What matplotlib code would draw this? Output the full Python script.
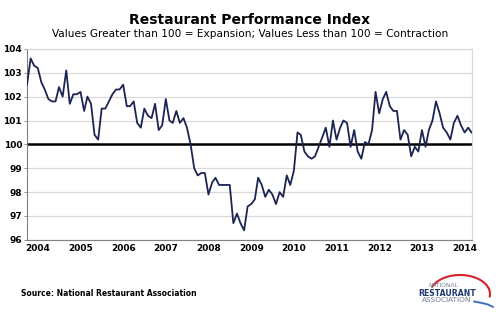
import numpy as np
import pandas as pd
import matplotlib
matplotlib.use("Agg")
import matplotlib.pyplot as plt

# monthly index values, Oct 2003 - Mar 2014
rpi = [102.5, 103.6, 103.3, 103.2, 102.6, 102.3, 101.9, 101.8, 101.8, 102.4,
       102.0, 103.1, 101.7, 102.1, 102.1, 102.2, 101.4, 102.0, 101.7, 100.4,
       100.2, 101.5, 101.5, 101.8, 102.1, 102.3, 102.3, 102.5, 101.6, 101.6,
       101.8, 100.9, 100.7, 101.5, 101.2, 101.1, 101.7, 100.6, 100.8, 101.9,
       101.0, 100.9, 101.4, 100.9, 101.1, 100.7, 100.0, 99.0, 98.7, 98.8,
       98.8, 97.9, 98.4, 98.6, 98.3, 98.3, 98.3, 98.3, 96.7, 97.1,
       96.7, 96.4, 97.4, 97.5, 97.7, 98.6, 98.3, 97.8, 98.1, 97.9,
       97.5, 98.0, 97.8, 98.7, 98.3, 98.9, 100.5, 100.4, 99.7, 99.5,
       99.4, 99.5, 99.9, 100.3, 100.7, 99.9, 101.0, 100.2, 100.7, 101.0,
       100.9, 99.9, 100.6, 99.7, 99.4, 100.1, 100.0, 100.6, 102.2, 101.3,
       101.9, 102.2, 101.6, 101.4, 101.4, 100.2, 100.6, 100.4, 99.5, 99.9,
       99.7, 100.6, 99.9, 100.6, 101.0, 101.8, 101.3, 100.7, 100.5, 100.2,
       100.9, 101.2, 100.8, 100.5, 100.7, 100.5]
months = pd.date_range("2003-10-01", periods=len(rpi), freq="MS")
years = list(range(2004, 2015))
yticks = list(range(96, 105))

plt.rcParams["font.family"] = ["DejaVu Sans"]

fig = plt.figure(figsize=(5.0, 3.35), dpi=100)
ax = fig.add_axes([0.054, 0.284, 0.889, 0.570])

for v in yticks:
    ax.axhline(v, color="#d9d9d9", lw=0.9, zorder=1)
ax.axhline(100, color="black", lw=1.8, zorder=2)
ax.plot(months, rpi, color="#1b2452", lw=1.3, zorder=3)

ax.set_ylim(96, 104)
ax.set_xlim(months[0], months[-1])
ax.set_yticks(yticks)
ax.set_yticklabels([str(v) for v in yticks], fontsize=6.5, fontweight="bold")
ax.set_xticks([pd.Timestamp(f"{y}-01-01") for y in years])
ax.set_xticklabels([str(y) for y in years], fontsize=6.5, fontweight="bold")
ax.tick_params(axis="y", length=2.5, width=0.6, color="#808080", pad=1)
ax.tick_params(axis="x", length=0, pad=3)

for side in ["top", "right"]:
    ax.spines[side].set_color("#d9d9d9")
    ax.spines[side].set_linewidth(0.9)
for side in ["left", "bottom"]:
    ax.spines[side].set_color("#808080")
    ax.spines[side].set_linewidth(0.8)

fig.text(0.5, 0.94, "Restaurant Performance Index", ha="center", va="center",
         fontsize=10, fontweight="bold")
fig.text(0.5, 0.898, "Values Greater than 100 = Expansion; Values Less than 100 = Contraction",
         ha="center", va="center", fontsize=7.6)
fig.text(0.042, 0.124, "Source: National Restaurant Association", ha="left", va="center",
         fontsize=5.5, fontweight="bold")

# association logo, drawn in pixel units of the figure
lax = fig.add_axes([0.82, 1 - 312 / 335, 0.18, 42 / 335])
lax.set_xlim(410, 500)
lax.set_ylim(312, 270)
lax.axis("off")
lax.text(443.5, 285.7, "NATIONAL", ha="center", va="center", fontsize=4.2, color="#6d7f95")
lax.text(447, 293.3, "RESTAURANT", ha="center", va="center", fontsize=5.6,
         fontweight="bold", color="#1f3a6e")
lax.text(447, 300.2, "ASSOCIATION", ha="center", va="center", fontsize=5.3, color="#6d7f95")
t = np.radians(np.linspace(-8, 158, 60))
lax.plot(460 + 30 * np.cos(t), 294 - 19 * np.sin(t), color="#d2232a", lw=1.5,
         solid_capstyle="round")
lax.plot([474, 482, 488, 493], [301.5, 303, 304.5, 307], color="#3a72b8", lw=1.4,
         solid_capstyle="round")

fig.savefig("out.png", dpi=100)
